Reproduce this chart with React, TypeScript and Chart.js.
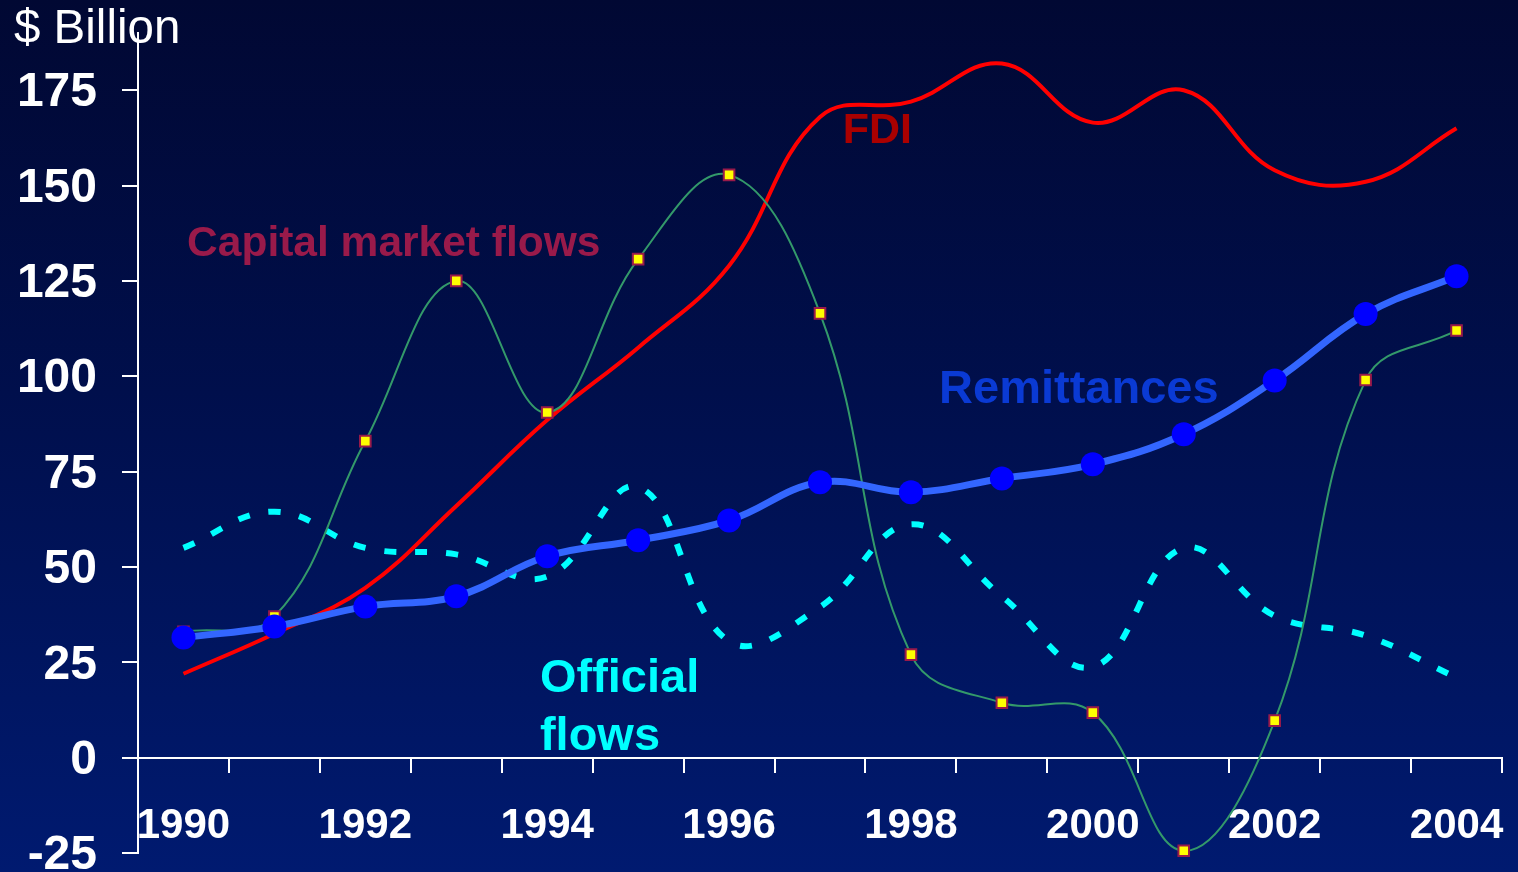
import React, { useEffect, useRef } from 'react';
import { Chart, registerables } from 'chart.js';

Chart.register(...registerables);

const years = ['1990', '1991', '1992', '1993', '1994', '1995', '1996', '1997', '1998', '1999', '2000', '2001', '2002', '2003', '2004'];
const fdi = [22, 32.5, 44.5, 66, 88.5, 107.5, 129, 168, 172, 182, 166.5, 175, 154, 151, 165];
const capitalMarketFlows = [33, 37, 83, 125, 90.5, 130.7, 152.8, 116.5, 27, 14.4, 11.8, -24.4, 9.7, 99, 112];
const remittances = [31.5, 34.4, 39.6, 42.3, 52.8, 57, 62.2, 72.2, 69.6, 73.2, 76.9, 84.8, 98.9, 116.3, 126.2];
const officialFlows = [55, 64.5, 55, 53.3, 47.5, 71, 30.5, 39.5, 61.2, 42.3, 23.8, 55, 37.2, 32, 21];
const yTickValues = [-25, 0, 25, 50, 75, 100, 125, 150, 175];

const annotationTexts = ['FDI', 'Capital market flows', 'Remittances', 'Official', 'flows'];
const annotationX = [7.25, 0.04, 8.31, 3.92, 3.92];
const annotationY = [164.3, 134.6, 96.3, 20.7, 5.5];
const annotationColors = ['#aa0000', '#991a4a', '#0a3ad4', '#00ffff', '#00ffff'];
const annotationSizes = [43, 42.5, 47, 47, 47];

const FONT = '"Liberation Sans", Arial, sans-serif';

export default function App() {
  const canvasRef = useRef<HTMLCanvasElement | null>(null);

  useEffect(() => {
    const canvas = canvasRef.current;
    if (!canvas) return;

    const textPlugin = {
      id: 'textPlugin',
      afterDatasetsDraw(chart: any) {
        const ctx = chart.ctx;
        const xs = chart.scales.x;
        const ys = chart.scales.y;
        ctx.save();
        ctx.textAlign = 'left';
        ctx.textBaseline = 'middle';
        annotationTexts.forEach((t, i) => {
          ctx.font = `bold ${annotationSizes[i]}px ${FONT}`;
          ctx.fillStyle = annotationColors[i];
          ctx.fillText(t, xs.getPixelForValue(annotationX[i]), ys.getPixelForValue(annotationY[i]));
        });
        ctx.restore();
      },
      afterDraw(chart: any) {
        const ctx = chart.ctx;
        const area = chart.chartArea;
        ctx.save();
        ctx.font = `47.5px ${FONT}`;
        ctx.fillStyle = '#ffffff';
        ctx.textAlign = 'left';
        ctx.textBaseline = 'middle';
        ctx.fillText('$ Billion', area.left - 124, area.top - 3);
        ctx.restore();
      },
    };

    const chart = new Chart(canvas, {
      type: 'line',
      data: {
        labels: years,
        datasets: [
          {
            label: 'Remittances',
            data: remittances,
            borderColor: '#3366ff',
            borderWidth: 7,
            pointBackgroundColor: '#0000ff',
            pointBorderColor: '#0000ff',
            pointBorderWidth: 0,
            pointRadius: 12,
            tension: 0.4,
            clip: false,
          },
          {
            label: 'Capital market flows',
            data: capitalMarketFlows,
            borderColor: '#33996a',
            borderWidth: 2,
            pointStyle: 'rect',
            pointBackgroundColor: '#ffff00',
            pointBorderColor: '#991a4a',
            pointBorderWidth: 2,
            pointRadius: 7.5,
            tension: 0.4,
            clip: false,
          },
          {
            label: 'FDI',
            data: fdi,
            borderColor: '#ff0000',
            borderWidth: 4,
            pointRadius: 0,
            tension: 0.4,
            clip: false,
          },
          {
            label: 'Official flows',
            data: officialFlows,
            borderColor: '#00ffff',
            borderWidth: 6,
            borderDash: [12, 19],
            borderCapStyle: 'butt',
            pointRadius: 0,
            tension: 0.4,
            clip: false,
          },
        ],
      },
      options: {
        animation: false,
        responsive: false,
        events: [],
        layout: { padding: { left: 0, top: 33, right: 16, bottom: 19 } },
        plugins: {
          legend: { display: false },
          tooltip: { enabled: false },
          title: { display: false },
        },
        scales: {
          x: {
            type: 'category',
            position: { y: 0 } as any,
            offset: true,
            grid: {
              display: true,
              offset: true,
              drawOnChartArea: false,
              drawTicks: true,
              tickLength: 14,
              color: '#ffffff',
              lineWidth: 2,
            },
            border: { display: true, color: '#ffffff', width: 2 },
            ticks: {
              autoSkip: false,
              maxRotation: 0,
              minRotation: 0,
              padding: 30,
              color: '#ffffff',
              font: { family: FONT, size: 42, weight: 'bold' },
              callback: (_v: any, idx: number) => (idx % 2 === 0 ? years[idx] : ''),
            },
            afterFit: (s: any) => {
              s.height = 0;
              s.paddingLeft = 0;
              s.paddingRight = 0;
            },
          },
          y: {
            type: 'linear',
            position: 'left',
            min: -25,
            max: 190,
            grid: {
              display: true,
              drawOnChartArea: false,
              drawTicks: true,
              tickLength: 16,
              color: '#ffffff',
              lineWidth: 2,
            },
            border: { display: true, color: '#ffffff', width: 2 },
            afterBuildTicks: (s: any) => {
              s.ticks = yTickValues.map((v) => ({ value: v }));
            },
            ticks: {
              padding: 25,
              labelOffset: 3,
              color: '#ffffff',
              font: { family: FONT, size: 48, weight: 'bold' },
            },
            afterFit: (s: any) => {
              s.width = 138;
              s.paddingTop = 0;
              s.paddingBottom = 0;
            },
          },
        },
      },
      plugins: [textPlugin],
    } as any);

    return () => {
      chart.destroy();
    };
  }, []);

  return (
    <div
      style={{
        position: 'fixed',
        left: 0,
        top: 0,
        width: 1518,
        height: 872,
        background: 'linear-gradient(to bottom, #010833 0%, #000f4c 45%, #001a70 100%)',
      }}
    >
      <canvas ref={canvasRef} width={1518} height={872} style={{ display: 'block' }} />
    </div>
  );
}
